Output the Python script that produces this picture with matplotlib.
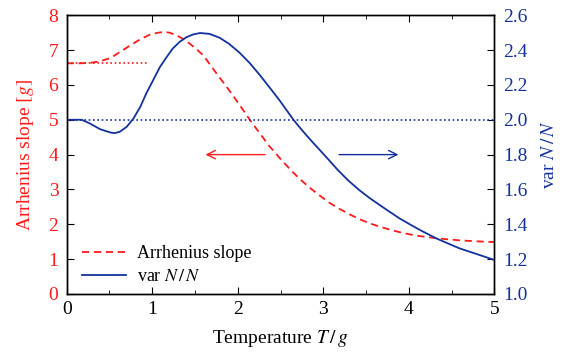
import matplotlib
matplotlib.use('Agg')
import matplotlib.pyplot as plt
from matplotlib.ticker import MultipleLocator, FormatStrFormatter

plt.rcParams['font.family'] = ['Liberation Serif', 'DejaVu Serif']
plt.rcParams['mathtext.fontset'] = 'stix'
plt.rcParams['font.size'] = 13

RED = '#ff1a1a'
BLUE = '#13319c'

# Arrhenius slope (left axis)
t_arr = [0, 0.15, 0.27, 0.39, 0.51, 0.62, 0.74, 0.86, 0.97, 1.05, 1.13,
         1.20, 1.28, 1.36, 1.44, 1.52, 1.60, 1.67, 1.79, 1.91, 2.02, 2.14,
         2.26, 2.37, 2.49, 2.61, 2.72, 2.84, 2.96, 3.07, 3.19, 3.31, 3.42,
         3.54, 3.66, 3.78, 3.89, 4.01, 4.13, 4.36, 4.59, 4.80, 5.0]
arr_slope = [6.62, 6.62, 6.63, 6.68, 6.77, 6.94, 7.13, 7.31, 7.44, 7.49, 7.52,
             7.50, 7.43, 7.32, 7.18, 7.02, 6.84, 6.60, 6.20, 5.81, 5.43, 5.0,
             4.60, 4.24, 3.90, 3.58, 3.31, 3.05, 2.82, 2.62, 2.44, 2.28, 2.15,
             2.03, 1.93, 1.845, 1.775, 1.71, 1.66, 1.59, 1.54, 1.51, 1.49]

# var N / N (right axis)
t_var = [0, 0.175, 0.27, 0.39, 0.51, 0.56, 0.62, 0.70, 0.78, 0.86, 0.93, 1.01,
         1.09, 1.17, 1.24, 1.32, 1.40, 1.48, 1.56, 1.67, 1.79, 1.90, 2.02,
         2.14, 2.26, 2.38, 2.49, 2.57, 2.65, 2.72, 2.80, 2.88, 2.97, 3.07,
         3.17, 3.29, 3.42, 3.54, 3.66, 3.78, 3.89, 4.01, 4.13, 4.32, 4.59,
         4.80, 5.0]
var_n = [2.0, 2.0, 1.979, 1.946, 1.927, 1.923, 1.931, 1.959, 2.007, 2.074,
         2.151, 2.227, 2.303, 2.361, 2.409, 2.447, 2.474, 2.49, 2.498, 2.493,
         2.47, 2.435, 2.385, 2.325, 2.255, 2.18, 2.11, 2.055, 2.0, 1.958,
         1.912, 1.868, 1.82, 1.766, 1.711, 1.652, 1.596, 1.551, 1.51, 1.47,
         1.434, 1.40, 1.367, 1.319, 1.262, 1.228, 1.195]

# reference levels
arr_low_t = 6.62
arr_low_end = 0.94
var_low_t = 2.0

fig, ax = plt.subplots(figsize=(5.72, 3.54), dpi=100)
fig.subplots_adjust(left=0.1166, right=0.8645, top=0.957, bottom=0.1695)
ax2 = ax.twinx()

ax.plot(t_arr, arr_slope, color=RED, lw=1.3, ls=(0, (4, 2.6)), label='Arrhenius slope')
ax.plot([0, arr_low_end], [arr_low_t, arr_low_t], color=RED, lw=1.2, ls=(0, (1, 1.6)))
ax2.plot(t_var, var_n, color=BLUE, lw=1.3, solid_joinstyle='round')
ax2.plot([0, 5], [var_low_t, var_low_t], color=BLUE, lw=1.2, ls=(0, (1, 1.6)))
ax.plot([], [], color=BLUE, lw=1.3, label='var $N\\,/\\,N$')

ax.annotate('', xy=(1.59, 4), xytext=(2.35, 4),
            arrowprops=dict(arrowstyle='->', color=RED, lw=1.0, mutation_scale=15))
ax.annotate('', xy=(3.91, 4), xytext=(3.15, 4),
            arrowprops=dict(arrowstyle='->', color=BLUE, lw=1.0, mutation_scale=15))

ax.set_xlim(0, 5)
ax.set_ylim(0, 8)
ax2.set_ylim(1.0, 2.6)
ax.xaxis.set_major_locator(MultipleLocator(1))
ax.xaxis.set_minor_locator(MultipleLocator(0.5))
ax.yaxis.set_major_locator(MultipleLocator(1))
ax2.yaxis.set_major_locator(MultipleLocator(0.2))
ax2.yaxis.set_major_formatter(FormatStrFormatter('%.1f'))

ax.tick_params(axis='x', which='both', direction='in', top=True, pad=5,
               labelfontfamily='Liberation Serif', labelsize=14)
ax.tick_params(axis='x', which='major', length=5)
ax.tick_params(axis='x', which='minor', length=3)
ax.tick_params(axis='y', direction='in', length=5, labelcolor=RED, pad=6,
               labelfontfamily='Liberation Serif', labelsize=14)
ax2.tick_params(axis='y', direction='in', length=5, labelcolor=BLUE, pad=6,
                labelfontfamily='Liberation Serif', labelsize=14)
for a in (ax, ax2):
    for s in a.spines.values():
        s.set_linewidth(1.0)

ax.set_xlabel('Temperature $T\\,/\\,g$', labelpad=7, fontsize=14)
ax.set_ylabel('Arrhenius slope $[g]$', color=RED, labelpad=9, fontsize=14)
ax2.set_ylabel('var $N\\,/\\,N$', color=BLUE, labelpad=10, fontsize=14)

ax.legend(loc='lower left', bbox_to_anchor=(0.02, 0.005), frameon=False,
          handlelength=2.4, handletextpad=0.6, labelspacing=0.35, borderaxespad=0)

fig.savefig('out.png', dpi=100)
